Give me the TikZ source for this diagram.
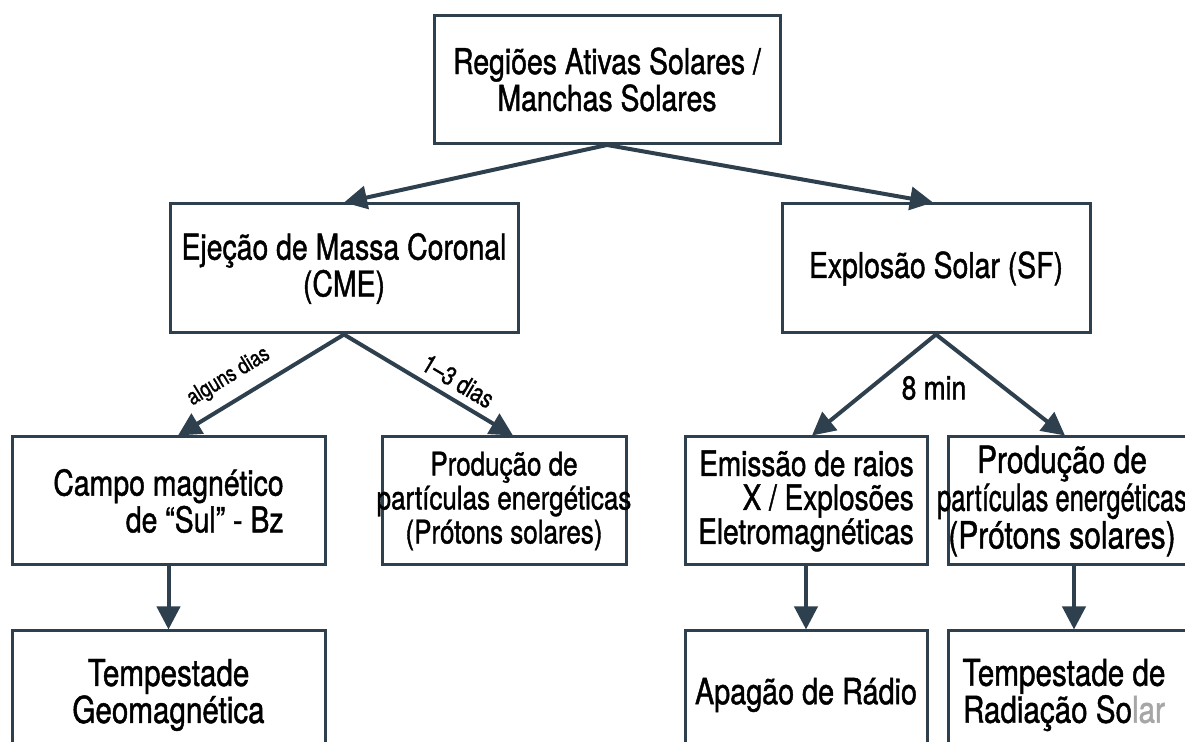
\documentclass[tikz,border=0pt]{standalone}
\usepackage{fontspec}
\setmainfont{TeX Gyre Heros}[FakeStretch=0.8, FakeBold=1.2]
\usepackage{xcolor}
\usetikzlibrary{positioning, arrows.meta}
\definecolor{slate}{HTML}{2E3F4D}

\begin{document}
\begin{tikzpicture}[x=0.5pt, y=-0.5pt, node distance=31.5pt, >={Triangle[length=11.5pt, width=11.5pt]}]
            % Block styles
            \tikzstyle{block} = [rectangle, draw=slate, line width=1.5pt, align=center, minimum height=64pt, inner sep=3pt, font=\fontsize{17.75}{18.4}\selectfont]
            \tikzstyle{block_small} = [block, font=\fontsize{16.25}{17}\selectfont]
            \tikzstyle{txt} = [align=center, inner sep=0pt]
            \tikzstyle{link} = [->, draw=slate, line width=2pt]
            \tikzstyle{delay} = [sloped, above]
            % Canvas
            \useasboundingbox (0,0) rectangle (1185,742);
            \clip (0,0) rectangle (1185,742);
            % Source and events
            \node[block, minimum width=173pt] (regioes) at (607,79.5) {Regiões Ativas Solares /\\Manchas Solares};
            \node[block, minimum width=174pt, minimum height=64.5pt] (cme) at (344,268.5) {Ejeção de Massa Coronal\\(CME)};
            \node[block, minimum width=154pt, minimum height=64.5pt] (sf) at (936,268.5) {Explosão Solar (SF)};
            % Effects
            \node[block, align=right, minimum width=156.5pt] (campo) at (168.5,501) {Campo magnético\\de “Sul” - Bz};
            \node[block_small, minimum width=122pt] (prod_cme) at (504,501) {Produção de\\\makebox[0pt]{partículas energéticas}\\(Prótons solares)};
            \node[block, align=right, minimum width=121pt, font=\fontsize{17.5}{17}\selectfont] (emissao) at (806,501) {Emissão de raios\\X / Explosões\\Eletromagnéticas};
            \node[block, minimum width=126pt] (prod_sf) at (1074,501) {};
            \node[txt, font=\fontsize{18.75}{17}\selectfont] (prod_sf_text) at ([xshift=-6pt]prod_sf.center) {Produção de\\\scalebox{0.85}[1]{partículas energéticas}\\(Prótons solares)};
            % Consequences
            \node[block, minimum width=156.5pt, font=\fontsize{18.5}{18.5}\selectfont, below=of campo] (geomag) {Tempestade\\Geomagnética};
            \node[block, minimum width=121pt, font=\fontsize{18}{18.5}\selectfont, below=of emissao] (apagao) {Apagão de Rádio};
            \node[block, minimum width=126pt, below=of prod_sf] (radiacao) {};
            \node[txt, font=\fontsize{18.5}{18.5}\selectfont] (radiacao_text) at ([xshift=-5pt]radiacao.center) {Tempestade de\\Radiação So\textcolor{gray!70}{lar}};
            % Connections
            \draw[link] (regioes.south) -- (cme.north);
            \draw[link] (regioes.south) -- ([xshift=-1.5pt]sf.north);
            \draw[link] (cme.south) -- node[delay, pos=0.62, inner sep=5.5pt, font=\fontsize{11.4}{13}\selectfont] {alguns dias} ([xshift=4.75pt]campo.north);
            \draw[link] (cme.south) -- node[delay, pos=0.62, inner sep=3.5pt, font=\fontsize{13}{15}\selectfont] {1–3 dias} ([xshift=4.5pt]prod_cme.north);
            \draw[link] (sf.south) -- ([xshift=3pt]emissao.north);
            \draw[link] (sf.south) -- ([xshift=-4.5pt]prod_sf.north);
            \node[font=\fontsize{16.5}{18}\selectfont] (tempo) at (934,388) {8 min};
            \draw[link] (campo) -- (geomag);
            \draw[link] (emissao) -- (apagao);
            \draw[link] (prod_sf) -- (radiacao);
        \end{tikzpicture}
\end{document}
